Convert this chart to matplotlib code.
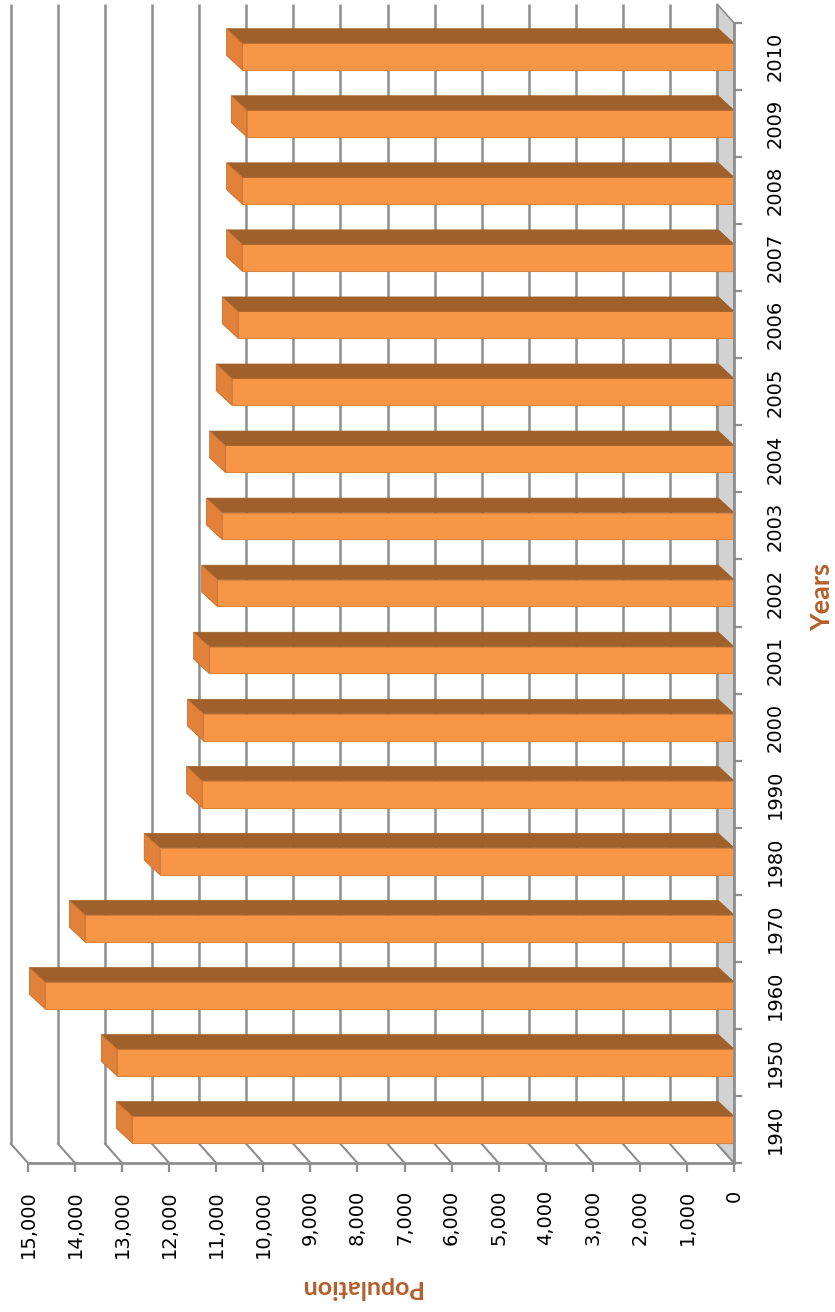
from matplotlib import pyplot as plt
from matplotlib.patches import Polygon
from matplotlib.ticker import FuncFormatter, FixedLocator
import numpy as np

# population per year
years = ["1940", "1950", "1960", "1970", "1980", "1990", "2000", "2001", "2002",
         "2003", "2004", "2005", "2006", "2007", "2008", "2009", "2010"]
population = [12790, 13110, 14640, 13790, 12200, 11300, 11280, 11150, 10980,
              10880, 10810, 10670, 10540, 10450, 10450, 10350, 10450]
value_ticks = list(range(0, 16000, 1000))

FRONT = "#F79646"
TOP = "#A0602B"
CAP = "#E2823A"
GRID = "#8E8E8E"
TITLE = "#B45E2B"

# depth of the floor / wall and of the bars, in data units (value, category)
floor_dx, floor_dy = 361, 0.285
bar_dx, bar_dy = 330, 0.215
bar_h = 0.4

fig = plt.figure(figsize=(8.35, 13.12), dpi=100)
ax = fig.add_axes([28 / 835, 149 / 1312, 706 / 835, 1140 / 1312])
ax.set_xlim(15000, 0)
ax.set_ylim(-0.5, len(years) - 0.5)
y_lo, y_hi = ax.get_ylim()

# side wall behind the category axis
wall = Polygon([(0, y_lo), (floor_dx, y_lo + floor_dy), (floor_dx, y_hi + floor_dy), (0, y_hi)],
               closed=True, facecolor="#D2D2D2", edgecolor=GRID, lw=1.2, zorder=1, clip_on=False)
ax.add_patch(wall)

# back wall gridlines and floor lines
for v in value_ticks:
    ax.plot([v + floor_dx, v + floor_dx], [y_lo + floor_dy, y_hi + floor_dy],
            color=GRID, lw=1.8, zorder=1, clip_on=False, solid_capstyle="butt")
    ax.plot([v, v + floor_dx], [y_lo, y_lo + floor_dy],
            color=GRID, lw=1.5, zorder=1, clip_on=False)

# bars: front face, top face and end cap
idx = np.arange(len(years))
ax.barh(idx, population, height=bar_h, color=FRONT, edgecolor="#DC843E", lw=0.8, zorder=3)
for i, v in zip(idx, population):
    y0, y1 = i - bar_h / 2, i + bar_h / 2
    top = Polygon([(0, y1), (v, y1), (v + bar_dx, y1 + bar_dy), (bar_dx, y1 + bar_dy)],
                  closed=True, facecolor=TOP, edgecolor=TOP, lw=0.5, zorder=3)
    cap = Polygon([(v, y0), (v, y1), (v + bar_dx, y1 + bar_dy), (v + bar_dx, y0 + bar_dy)],
                  closed=True, facecolor=CAP, edgecolor="#C8702F", lw=0.6, zorder=4)
    ax.add_patch(top)
    ax.add_patch(cap)

# axes frame
for side in ["top", "left"]:
    ax.spines[side].set_visible(False)
for side in ["bottom", "right"]:
    ax.spines[side].set_color(GRID)
    ax.spines[side].set_linewidth(2)
    ax.spines[side].set_zorder(5)

ax.xaxis.set_major_locator(FixedLocator(value_ticks))
ax.xaxis.set_major_formatter(FuncFormatter(lambda x, pos: f"{int(x):,}"))
ax.tick_params(axis="x", direction="out", length=6.5, width=1.6, color=GRID,
               labelsize=14, pad=13, labelrotation=90)

ax.yaxis.tick_right()
ax.yaxis.set_major_locator(FixedLocator(np.arange(len(years) + 1) - 0.5))
ax.yaxis.set_major_formatter(FuncFormatter(lambda y, pos: ""))
ax.yaxis.set_minor_locator(FixedLocator(idx))
ax.set_yticks(idx, labels=years, minor=True)
ax.tick_params(axis="y", which="major", direction="out", length=6, width=1.6, color=GRID)
ax.tick_params(axis="y", which="minor", length=0, labelsize=14, pad=23, labelrotation=90)
for lbl in ax.get_yticklabels(minor=True):
    lbl.set_va("center")

ax.set_xlabel("Population", rotation=180, fontsize=18, fontweight="bold",
              color=TITLE, family="Lato")
ax.xaxis.set_label_coords(0.470, -0.099)
ax.yaxis.set_label_position("right")
ax.set_ylabel("Years", rotation=90, fontsize=19.5, fontweight="bold",
              color=TITLE, family="Lato")
ax.yaxis.set_label_coords(1.108, 0.4965)

fig.savefig("out.png", dpi=100, facecolor="white")
